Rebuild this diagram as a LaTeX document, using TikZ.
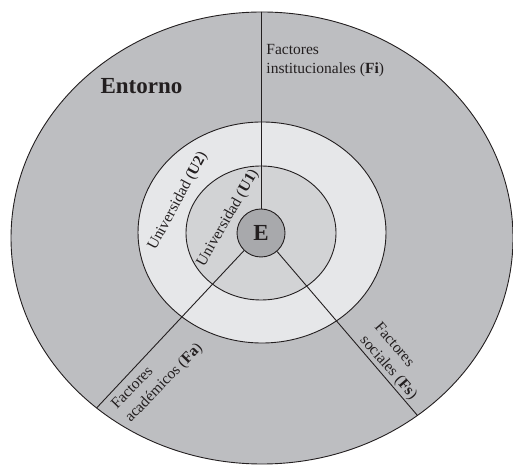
\documentclass[tikz,border=0pt]{standalone}
\usepackage{fontspec}
\setmainfont{Liberation Serif}
\usetikzlibrary{shapes.geometric,calc}
\definecolor{outerg}{HTML}{BDBEC1}
\definecolor{ringtwo}{HTML}{E6E7E9}
\definecolor{ringone}{HTML}{D2D3D5}
\definecolor{coreg}{HTML}{A8A9AC}
\definecolor{ink}{HTML}{231F20}
\begin{document}
\begin{tikzpicture}[x=1pt,y=1pt,line width=0.9pt,
  ringshape/.style={ellipse,draw=ink,inner sep=0pt,outer sep=0pt},
  lbl/.style={inner sep=0pt,text=ink,font=\fontsize{15.5}{19}\selectfont},
  big/.style={inner sep=0pt,text=ink,font=\fontsize{23}{26}\selectfont\bfseries}]
\useasboundingbox (0,0) rectangle (513,465);
\node[ringshape,fill=outerg,minimum width=502,minimum height=452] (env) at (262,227) {};
\node[ringshape,fill=ringtwo,minimum width=248,minimum height=221] (u2ring) at (262,232.5) {};
\node[ringshape,fill=ringone,minimum width=150,minimum height=134] (u1ring) at (261,232) {};
\node[circle,draw=ink,fill=coreg,minimum size=48,inner sep=0pt] (E) at (261,232) {};
\node[big] (Etxt) at (E) {E};
\coordinate (fi) at (261,470);
\coordinate (fa) at ($(E)+(226.8:300)$);
\coordinate (fs) at ($(E)+(-49.4:300)$);
\begin{scope}
\clip (262,227) ellipse [x radius=251,y radius=226];
\draw[ink] (E.north) -- (fi);
\draw[ink] (E.226.8) -- (fa);
\draw[ink] (E.-49.4) -- (fs);
\end{scope}
\node[big] (ent) at (141.5,379) {Entorno};
\node[lbl,rotate=61.6] (u2) at (178,264) {Universidad (\textbf{U2})};
\node[lbl,rotate=60] (u1) at (228,247) {Universidad (\textbf{U1})};
\node[lbl,align=left,anchor=north west] (fitxt) at (266,421) {Factores\\institucionales (\textbf{Fi})};
\node[lbl,align=left,anchor=north west,rotate=46] (fatxt) at (109.2,62.3) {Factores\\académicos (\textbf{Fa})};
\node[lbl,align=left,anchor=north west,rotate=-49] (fstxt) at (381.7,144.3) {Factores\\sociales (\textbf{Fs})};
\end{tikzpicture}
\end{document}
